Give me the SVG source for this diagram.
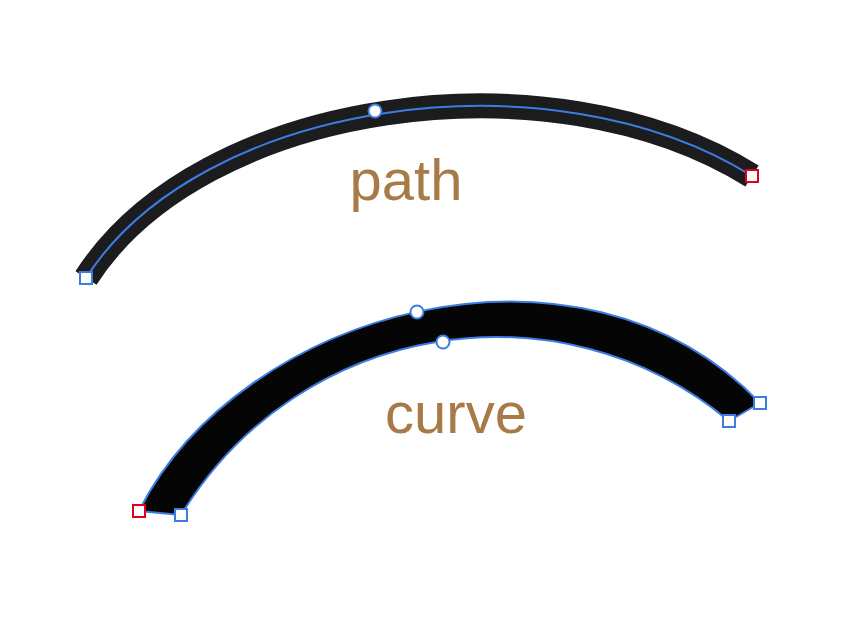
<svg xmlns="http://www.w3.org/2000/svg" width="858" height="626" viewBox="0 0 858 626">
<style>
.lbl{font-family:"Liberation Sans",Arial,sans-serif;font-size:58px;fill:#a87a48;text-anchor:middle}
.h{fill:#fff;stroke:#3b7de0;stroke-width:2}
.r{fill:#fff;stroke:#e0001b;stroke-width:2}
</style>
<rect width="858" height="626" fill="#fff"/>
<g id="path">
<path d="M86,278 C200,100 550,50 752,176" fill="none" stroke="#1c1b1d" stroke-width="25"/>
<path d="M86,278 C200,100 550,50 752,176" fill="none" stroke="#3b7de0" stroke-width="2"/>
<circle class="h" cx="375" cy="111" r="6.5"/>
<rect class="h" x="80" y="272" width="12" height="12"/>
<rect class="r" x="746" y="170" width="12" height="12"/>
<text class="lbl" x="406" y="200">path</text>
</g>
<g id="curve">
<path d="M139,511 C240,310 580,215 760,403 L729,421 C560,280 300,320 181,515 Z" fill="#060506" stroke="#3b7de0" stroke-width="2" stroke-linejoin="round"/>
<circle class="h" cx="417" cy="312" r="6.5"/>
<circle class="h" cx="443" cy="342" r="6.5"/>
<rect class="r" x="133" y="505" width="12" height="12"/>
<rect class="h" x="175" y="509" width="12" height="12"/>
<rect class="h" x="723" y="415" width="12" height="12"/>
<rect class="h" x="754" y="397" width="12" height="12"/>
<text class="lbl" x="456" y="433">curve</text>
</g>
</svg>
